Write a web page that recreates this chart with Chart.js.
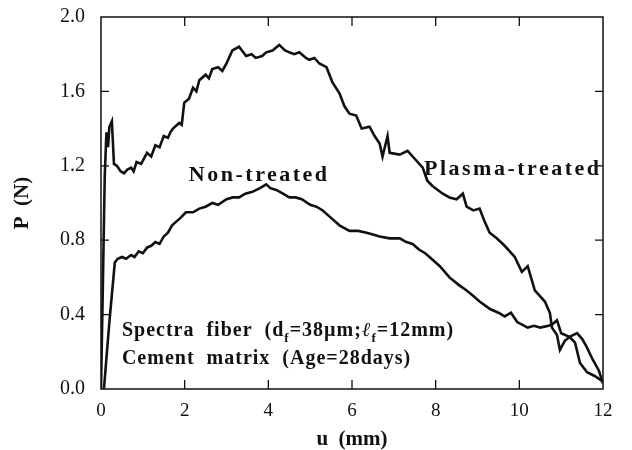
<!DOCTYPE html>
<html lang="en">
<head>
    <meta charset="UTF-8">
    <title>P - u curves</title>
    <script src="https://cdn.jsdelivr.net/npm/chart.js"></script>
    <style>
        html, body {
            margin: 0;
            padding: 0;
            background-color: #fff;
        }
        #wrap {
            width: 632px;
            height: 450px;
        }
    </style>
</head>
<body>
    <div id="wrap">
        <canvas id="puChart"></canvas>
    </div>

    <script>
        // values
        const xTicks = [0, 2, 4, 6, 8, 10, 12];
        const yTicks = [0.0, 0.4, 0.8, 1.2, 1.6, 2.0];

        const plasmaU = [0, 0.04, 0.09, 0.13, 0.17, 0.2, 0.26, 0.31, 0.38, 0.47, 0.55, 0.63, 0.72, 0.78, 0.85, 0.96, 1.03, 1.1, 1.2, 1.3, 1.4, 1.45, 1.5, 1.6, 1.66, 1.72, 1.87, 1.93, 1.99, 2.1, 2.2, 2.28, 2.35, 2.5, 2.58, 2.66, 2.8, 2.9, 3.0, 3.14, 3.3, 3.47, 3.6, 3.7, 3.85, 3.95, 4.1, 4.26, 4.4, 4.5, 4.62, 4.74, 4.9, 4.98, 5.1, 5.22, 5.39, 5.53, 5.7, 5.82, 5.94, 6.1, 6.23, 6.42, 6.54, 6.66, 6.73, 6.85, 6.9, 7.14, 7.33, 7.45, 7.69, 7.8, 7.93, 8.17, 8.33, 8.5, 8.65, 8.74, 8.9, 9.05, 9.17, 9.29, 9.46, 9.65, 9.89, 10.06, 10.2, 10.37, 10.61, 10.73, 10.78, 10.9, 10.97, 11.09, 11.2, 11.33, 11.45, 11.62, 11.8, 12.0];
        const plasmaP = [0, 0.5, 1.15, 1.38, 1.30, 1.41, 1.44, 1.21, 1.20, 1.17, 1.16, 1.18, 1.19, 1.17, 1.22, 1.21, 1.24, 1.27, 1.25, 1.31, 1.30, 1.33, 1.36, 1.35, 1.38, 1.40, 1.43, 1.42, 1.54, 1.56, 1.62, 1.60, 1.66, 1.69, 1.67, 1.72, 1.73, 1.71, 1.75, 1.82, 1.84, 1.79, 1.80, 1.78, 1.79, 1.81, 1.82, 1.85, 1.82, 1.81, 1.80, 1.81, 1.78, 1.77, 1.78, 1.75, 1.73, 1.65, 1.59, 1.52, 1.48, 1.47, 1.40, 1.41, 1.36, 1.32, 1.25, 1.36, 1.27, 1.26, 1.28, 1.25, 1.19, 1.12, 1.09, 1.05, 1.03, 1.02, 1.05, 0.98, 0.96, 0.97, 0.90, 0.84, 0.81, 0.77, 0.71, 0.63, 0.66, 0.53, 0.47, 0.41, 0.33, 0.29, 0.21, 0.26, 0.28, 0.25, 0.14, 0.09, 0.07, 0.04];

        const nonU = [0.07, 0.2, 0.33, 0.4, 0.5, 0.6, 0.72, 0.8, 0.9, 1.0, 1.1, 1.2, 1.3, 1.4, 1.5, 1.6, 1.7, 1.8, 1.9, 2.03, 2.2, 2.35, 2.5, 2.66, 2.8, 3.0, 3.15, 3.3, 3.45, 3.62, 3.8, 3.95, 4.05, 4.19, 4.35, 4.5, 4.65, 4.8, 5.0, 5.15, 5.3, 5.5, 5.7, 5.94, 6.15, 6.35, 6.5, 6.66, 6.9, 7.14, 7.3, 7.45, 7.6, 7.75, 7.9, 8.1, 8.33, 8.55, 8.74, 8.9, 9.05, 9.3, 9.5, 9.65, 9.8, 9.95, 10.2, 10.35, 10.5, 10.7, 10.8, 10.9, 11.0, 11.2, 11.38, 11.5, 11.6, 11.75, 11.9, 12.0];
        const nonP = [0, 0.36, 0.68, 0.70, 0.71, 0.70, 0.72, 0.71, 0.74, 0.73, 0.76, 0.77, 0.79, 0.78, 0.82, 0.84, 0.88, 0.90, 0.92, 0.95, 0.95, 0.97, 0.98, 1.00, 0.99, 1.02, 1.03, 1.03, 1.05, 1.06, 1.08, 1.10, 1.08, 1.07, 1.05, 1.03, 1.03, 1.02, 0.99, 0.98, 0.96, 0.92, 0.88, 0.85, 0.85, 0.84, 0.83, 0.82, 0.81, 0.81, 0.79, 0.78, 0.75, 0.73, 0.70, 0.66, 0.60, 0.56, 0.53, 0.50, 0.47, 0.43, 0.41, 0.39, 0.41, 0.36, 0.33, 0.34, 0.33, 0.34, 0.35, 0.37, 0.30, 0.28, 0.30, 0.27, 0.23, 0.16, 0.10, 0.03];

        const SERIF = "'Liberation Serif', 'DejaVu Serif', serif";

        function toPoints(us, ps) {
            return us.map((u, i) => ({ x: u, y: ps[i] }));
        }

        // draw a line of text made of runs; runs marked sub are small and lowered
        function drawRuns(ctx, x, y, runs, size) {
            let cx = x;
            runs.forEach(r => {
                const s = r.sub ? Math.round(size * 0.65) : size;
                ctx.font = (r.italic ? 'italic ' : '') + 'bold ' + s + 'px ' + SERIF;
                ctx.fillText(r.t, cx, r.sub ? y + size * 0.28 : y);
                cx += ctx.measureText(r.t).width;
            });
        }

        const framePlugin = {
            id: 'frame',
            afterDatasetsDraw(chart) {
                const ctx = chart.ctx;
                const a = chart.chartArea;
                const xs = chart.scales.x;
                const ys = chart.scales.y;
                ctx.save();
                ctx.strokeStyle = '#111';
                ctx.lineWidth = 1.5;
                ctx.strokeRect(a.left, a.top, a.right - a.left, a.bottom - a.top);

                // inward ticks on all four sides
                ctx.lineWidth = 1.3;
                ctx.beginPath();
                xTicks.slice(1, -1).forEach(v => {
                    const px = xs.getPixelForValue(v);
                    ctx.moveTo(px, a.bottom); ctx.lineTo(px, a.bottom - 9);
                    ctx.moveTo(px, a.top); ctx.lineTo(px, a.top + 9);
                });
                yTicks.slice(1, -1).forEach(v => {
                    const py = ys.getPixelForValue(v);
                    ctx.moveTo(a.left, py); ctx.lineTo(a.left + 8, py);
                    ctx.moveTo(a.right, py); ctx.lineTo(a.right - 8, py);
                });
                ctx.stroke();

                // curve labels and note
                ctx.fillStyle = '#111';
                ctx.textBaseline = 'alphabetic';
                ctx.textAlign = 'left';
                ctx.letterSpacing = '2.5px';
                ctx.font = 'bold 22px ' + SERIF;
                ctx.fillText('Non-treated', xs.getPixelForValue(2.1), ys.getPixelForValue(1.12));
                ctx.fillText('Plasma-treated', xs.getPixelForValue(7.72), ys.getPixelForValue(1.15));

                ctx.letterSpacing = '1px';
                drawRuns(ctx, xs.getPixelForValue(0.5), ys.getPixelForValue(0.285), [
                    { t: 'Spectra  fiber  (d' },
                    { t: 'f', sub: true },
                    { t: '=38\u00b5m;' },
                    { t: '\u2113', italic: true },
                    { t: 'f', sub: true },
                    { t: '=12mm)' }
                ], 20);
                drawRuns(ctx, xs.getPixelForValue(0.5), ys.getPixelForValue(0.135), [
                    { t: 'Cement  matrix  (Age=28days)' }
                ], 20);
                ctx.restore();
            }
        };

        function createChart() {
            const ctx = document.getElementById('puChart').getContext('2d');
            new Chart(ctx, {
                type: 'line',
                data: {
                    datasets: [
                        {
                            label: 'Plasma-treated',
                            data: toPoints(plasmaU, plasmaP),
                            borderColor: '#111',
                            borderWidth: 2.6,
                            pointRadius: 0,
                            tension: 0
                        },
                        {
                            label: 'Non-treated',
                            data: toPoints(nonU, nonP),
                            borderColor: '#111',
                            borderWidth: 2.6,
                            pointRadius: 0,
                            tension: 0
                        }
                    ]
                },
                options: {
                    responsive: true,
                    maintainAspectRatio: false,
                    animation: false,
                    layout: { padding: { top: 17, right: 29, left: 0, bottom: 0 } },
                    plugins: {
                        legend: { display: false },
                        tooltip: { enabled: false }
                    },
                    scales: {
                        x: {
                            type: 'linear',
                            min: 0,
                            max: 12,
                            afterFit: s => {
                                s.height = 61;
                                s.paddingLeft = 0;
                                s.paddingRight = 0;
                            },
                            afterBuildTicks: s => { s.ticks = xTicks.map(v => ({ value: v })); },
                            ticks: {
                                color: '#111',
                                padding: 11,
                                font: { family: SERIF, size: 19 },
                                callback: v => String(v)
                            },
                            grid: { display: false, drawTicks: false },
                            border: { display: false },
                            title: {
                                display: true,
                                text: 'u  (mm)',
                                color: '#111',
                                padding: { top: 0, bottom: 0 },
                                font: { family: SERIF, size: 21, weight: 'bold', lineHeight: 1 }
                            }
                        },
                        y: {
                            type: 'linear',
                            min: 0,
                            max: 2,
                            afterFit: s => {
                                s.width = 101;
                                s.paddingTop = 0;
                                s.paddingBottom = 0;
                            },
                            afterBuildTicks: s => { s.ticks = yTicks.map(v => ({ value: v })); },
                            ticks: {
                                color: '#111',
                                padding: 16,
                                font: { family: SERIF, size: 20 },
                                callback: v => Number(v).toFixed(1)
                            },
                            grid: { display: false, drawTicks: false },
                            border: { display: false },
                            title: {
                                display: true,
                                text: 'P  (N)',
                                color: '#111',
                                padding: { top: 12, bottom: 0 },
                                font: { family: SERIF, size: 21, weight: 'bold', lineHeight: 1 }
                            }
                        }
                    }
                },
                plugins: [framePlugin]
            });
        }

        createChart();
    </script>
</body>
</html>
